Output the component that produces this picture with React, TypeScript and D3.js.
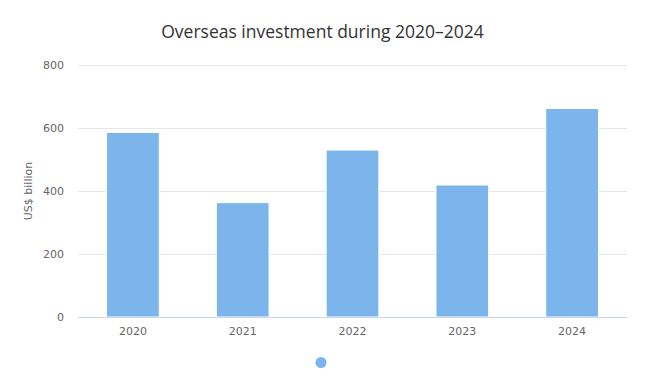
import React, { useRef, useEffect } from 'react';
import * as d3 from 'd3';

const years = ['2020', '2021', '2022', '2023', '2024'];
const investment = [586, 363, 530, 419, 662];
const yTicks = [0, 200, 400, 600, 800];

const width = 655;
const height = 386;
const margin = { top: 65, right: 28, bottom: 69, left: 78 };
const font = '"DejaVu Sans", Verdana, sans-serif';

function App() {
  const ref = useRef<SVGSVGElement>(null);

  useEffect(() => {
    const svg = d3.select(ref.current);
    svg.selectAll('*').remove();

    const innerW = width - margin.left - margin.right;
    const innerH = height - margin.top - margin.bottom;

    const x = d3.scaleBand().domain(years).range([0, innerW]).paddingInner(0.52).paddingOuter(0.26);
    const y = d3.scaleLinear().domain([0, 800]).range([innerH, 0]);

    svg.append('rect').attr('width', width).attr('height', height).attr('fill', '#ffffff');

    // title
    svg.append('text')
      .attr('x', 322.5)
      .attr('y', 38)
      .attr('text-anchor', 'middle')
      .style('font-family', '"Open Sans", sans-serif')
      .style('font-size', '17.5px')
      .attr('fill', '#333333')
      .text('Overseas investment during 2020–2024');

    const g = svg.append('g').attr('transform', `translate(${margin.left},${margin.top})`);

    // grid lines
    g.selectAll('line.grid')
      .data(yTicks.filter(t => t > 0))
      .enter()
      .append('line')
      .attr('x1', 0)
      .attr('x2', innerW)
      .attr('y1', d => Math.round(y(d)) + 0.5)
      .attr('y2', d => Math.round(y(d)) + 0.5)
      .attr('stroke', '#e6e6e6')
      .attr('stroke-width', 1);

    // y tick labels
    g.selectAll('text.ytick')
      .data(yTicks)
      .enter()
      .append('text')
      .attr('x', -14)
      .attr('y', d => y(d) + 4)
      .attr('text-anchor', 'end')
      .style('font-family', font)
      .style('font-size', '11px')
      .attr('fill', '#666666')
      .text(d => d);

    // y axis title
    svg.append('text')
      .attr('transform', `translate(32,${margin.top + innerH / 2}) rotate(-90)`)
      .attr('text-anchor', 'middle')
      .style('font-family', font)
      .style('font-size', '11px')
      .attr('fill', '#666666')
      .text('US$ billion');

    // bars
    g.selectAll('rect.bar')
      .data(investment)
      .enter()
      .append('rect')
      .attr('x', (d, i) => x(years[i]) as number)
      .attr('y', d => y(d))
      .attr('width', x.bandwidth())
      .attr('height', d => innerH - y(d))
      .attr('fill', '#7cb5ec')
      .attr('stroke', '#ffffff')
      .attr('stroke-width', 1);

    // x axis line
    g.append('line')
      .attr('x1', 0)
      .attr('x2', innerW)
      .attr('y1', innerH + 0.5)
      .attr('y2', innerH + 0.5)
      .attr('stroke', '#ccd6eb')
      .attr('stroke-width', 1);

    // x labels
    g.selectAll('text.xtick')
      .data(years)
      .enter()
      .append('text')
      .attr('x', d => (x(d) as number) + x.bandwidth() / 2)
      .attr('y', innerH + 18)
      .attr('text-anchor', 'middle')
      .style('font-family', font)
      .style('font-size', '11px')
      .attr('fill', '#666666')
      .text(d => d);

    // legend symbol
    svg.append('circle')
      .attr('cx', 321)
      .attr('cy', 362.5)
      .attr('r', 5.5)
      .attr('fill', '#7cb5ec');
  }, []);

  return (
    <svg ref={ref} width={width} height={height} style={{ position: 'absolute', left: 0, top: 0 }} />
  );
}

export default App;
